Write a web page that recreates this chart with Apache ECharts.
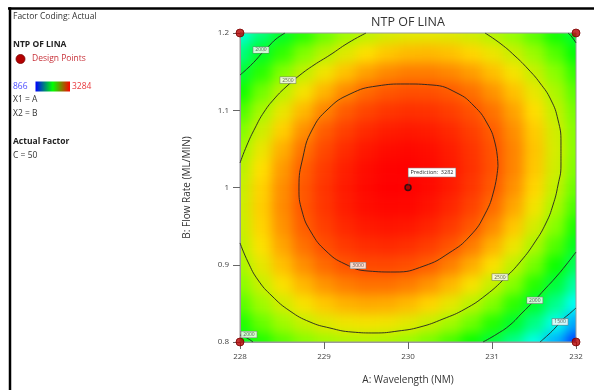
<!DOCTYPE html>
<html><head><meta charset="utf-8">
<script src="https://cdn.jsdelivr.net/npm/echarts@6/dist/echarts.min.js"></script>
<style>
html,body{margin:0;padding:0;background:#fff;width:594px;height:390px;overflow:hidden;}
#heatClip{position:absolute;left:240px;top:33px;width:336px;height:309px;overflow:hidden;z-index:1;}
#heat{position:absolute;left:-10.5px;top:-9.5px;width:357px;height:328px;filter:blur(6px);}
#main{position:absolute;left:0;top:0;width:594px;height:390px;z-index:2;}
</style></head><body>
<div id="heatClip"><div id="heat"></div></div>
<div id="main"></div>
<script>
// ---- data ----
const wavelengths = [228,228.25,228.5,228.75,229,229.25,229.5,229.75,230,230.25,230.5,230.75,231,231.25,231.5,231.75,232];
const flowRates = [0.8,0.825,0.85,0.875,0.9,0.925,0.95,0.975,1.0,1.025,1.05,1.075,1.1,1.125,1.15,1.175,1.2];
// NTP OF LINA surface, one row per flow rate (bottom to top), one value per wavelength
const ntpGrid = [
 [1984,2135,2258,2352,2418,2456,2466,2447,2400,2325,2221,2089,1929,1741,1524,1279,1006],
 [2133,2289,2418,2518,2590,2634,2649,2637,2596,2527,2430,2305,2152,1970,1760,1523,1257],
 [2258,2420,2554,2660,2737,2787,2809,2802,2768,2705,2614,2496,2349,2174,1971,1741,1482],
 [2361,2528,2667,2778,2861,2916,2944,2943,2915,2858,2774,2661,2521,2353,2157,1933,1681],
 [2440,2612,2756,2872,2961,3022,3055,3060,3037,2987,2908,2802,2668,2507,2317,2100,1855],
 [2495,2672,2821,2943,3037,3103,3141,3152,3135,3090,3018,2918,2790,2635,2452,2241,2002],
 [2527,2709,2863,2990,3089,3160,3204,3220,3209,3170,3103,3009,2887,2738,2561,2357,2125],
 [2536,2723,2881,3013,3117,3193,3242,3263,3258,3224,3163,3075,2959,2816,2645,2447,2221],
 [2522,2713,2876,3012,3121,3202,3256,3283,3282,3254,3199,3116,3006,2868,2704,2511,2292],
 [2484,2679,2847,2988,3101,3187,3246,3278,3282,3259,3209,3132,3027,2896,2737,2551,2337],
 [2423,2623,2795,2939,3057,3148,3212,3248,3258,3240,3195,3123,3024,2898,2745,2564,2357],
 [2339,2542,2718,2868,2990,3085,3153,3194,3209,3196,3156,3089,2995,2875,2727,2552,2350],
 [2232,2439,2619,2772,2898,2998,3070,3116,3135,3127,3092,3030,2942,2826,2684,2515,2319],
 [2101,2311,2495,2652,2783,2887,2963,3014,3037,3034,3004,2947,2863,2753,2615,2452,2261],
 [1946,2161,2348,2509,2644,2751,2832,2887,2915,2916,2890,2838,2759,2654,2522,2363,2178],
 [1769,1987,2178,2342,2480,2592,2677,2736,2768,2773,2752,2704,2630,2530,2403,2249,2069],
 [1568,1789,1983,2152,2293,2409,2497,2560,2596,2606,2589,2546,2476,2380,2258,2109,1934]
];
// contour lines [wavelength, flow]
const contour3000 = [[231.071,1.0278],[231.036,1.0576],[230.940,1.0835],[230.786,1.1055],[230.583,1.1223],[230.286,1.1327],[229.964,1.1340],[229.631,1.1314],[229.310,1.1210],[229.048,1.1016],[228.857,1.0744],[228.750,1.0395],[228.702,0.9994],[228.738,0.9696],[228.845,0.9424],[229.024,0.9178],[229.250,0.9010],[229.524,0.8919],[229.845,0.8906],[230.190,0.8984],[230.488,0.9152],[230.738,0.9372],[230.917,0.9657],[231.024,0.9968],[231.071,1.0278]];
const contour2500a = [[229.5,1.2],[229.286,1.1871],[229.071,1.1715],[228.881,1.1586],[228.714,1.1456],[228.560,1.1314],[228.417,1.1159],[228.286,1.0977],[228.179,1.0770],[228.083,1.0550],[228,1.0317]];
const contour2500b = [[228,0.9282],[228.095,0.9036],[228.214,0.8803],[228.381,0.8595],[228.595,0.8401],[228.833,0.8259],[229.071,0.8181],[229.333,0.8129],[229.607,0.8117],[229.881,0.8142],[230.143,0.8194],[230.417,0.8298],[230.679,0.8427],[230.929,0.8608],[231.155,0.8828],[231.345,0.9049],[231.512,0.9295],[231.643,0.9540],[231.726,0.9773],[231.786,1.0032],[231.821,1.0291],[231.821,1.0589],[231.786,1.0874],[231.702,1.1133],[231.571,1.1353],[231.429,1.1534],[231.274,1.1702],[231.107,1.1858],[230.917,1.2]];
const contour2000a = [[228.536,1.2],[228.429,1.1922],[228.345,1.1832],[228.262,1.1741],[228.190,1.1651],[228.095,1.1547],[228,1.1456]];
const contour2000b = [[231.905,1.2],[231.952,1.1948],[232,1.1871]];
const contour2000c = [[228,0.8091],[228.083,0.8052],[228.155,0.8]];
const contour2000d = [[230.893,0.8],[231.060,0.8104],[231.214,0.8220],[231.357,0.8375],[231.5,0.8531],[231.631,0.8686],[231.762,0.8841],[231.881,0.8997],[232,0.9165]];
const contour1500 = [[231.571,0.8],[231.667,0.8091],[231.762,0.8194],[231.833,0.8285],[231.905,0.8350],[232,0.8440]];
const contourLabels = [[228.25,1.178,2000],[228.571,1.139,2500],[229.405,0.899,3000],[231.095,0.884,2500],[231.51,0.854,2000],[231.81,0.826,1500],[228.107,0.8097,2000]];
const designPoints = [[228,0.8],[228,1.2],[232,0.8],[232,1.2]];
const centerPoint = [230,1.0];
const predictionValue = 3282;
const colorMin = 866, colorMax = 3284;
const xTicks = [228,229,230,231,232];
const yTicks = [0.8,0.9,1,1.1,1.2];

const FONT = 'Open Sans';
const rampColors = ['#0000ff','#0080ff','#00ffff','#00ff80','#00ff00','#91ff00','#ffe000','#ff6100','#ff0000'];

// ---- colour field ----
const heatData = [];
ntpGrid.forEach((row, j) => row.forEach((v, i) => heatData.push([i, j, v])));
const heat = echarts.init(document.getElementById('heat'));
heat.setOption({
  animation: false,
  grid: {left: 0, right: 0, top: 0, bottom: 0},
  xAxis: {type: 'category', data: wavelengths.map(String), show: false},
  yAxis: {type: 'category', data: flowRates.map(String), show: false},
  visualMap: {show: false, min: colorMin, max: colorMax, inRange: {color: rampColors}},
  series: [{type: 'heatmap', data: heatData, itemStyle: {borderWidth: 0}}]
});

// ---- main chart ----
const main = echarts.init(document.getElementById('main'));
const lineColor = 'rgba(35,35,35,0.9)';
function contourSeries(data) {
  return {type: 'line', data: data, smooth: 0.5, showSymbol: false, symbol: 'none', clip: true,
    lineStyle: {color: lineColor, width: 1}, z: 3, silent: true};
}
const fmtY = v => String(parseFloat(v.toFixed(2)));
const txt = (x, y, s, opt) => Object.assign({type: 'text', x: x, y: y, style: Object.assign({text: s, fontFamily: FONT, fontSize: 9, fill: '#333', textVerticalAlign: 'middle'}, opt || {})});

main.setOption({
  animation: false,
  backgroundColor: 'transparent',
  grid: {left: 240, top: 33, width: 336, height: 309, show: true, borderColor: '#9a9a9a', borderWidth: 1, backgroundColor: 'transparent'},
  xAxis: {type: 'value', min: xTicks[0], max: xTicks[xTicks.length-1], interval: 1,
    axisLine: {show: true, onZero: false, lineStyle: {color: '#9a9a9a'}},
    axisTick: {show: true, length: 7, lineStyle: {color: '#666'}},
    axisLabel: {color: '#444', fontSize: 8, margin: 11, fontFamily: FONT},
    splitLine: {show: false},
    name: 'A: Wavelength (NM)', nameLocation: 'middle', nameGap: 33,
    nameTextStyle: {fontSize: 10, color: '#333', fontFamily: FONT}},
  yAxis: {type: 'value', min: yTicks[0], max: yTicks[yTicks.length-1], interval: 0.1,
    axisLine: {show: true, onZero: false, lineStyle: {color: '#9a9a9a'}},
    axisTick: {show: true, length: 7, lineStyle: {color: '#666'}},
    axisLabel: {color: '#444', fontSize: 8, margin: 11, fontFamily: FONT, formatter: fmtY},
    splitLine: {show: false},
    name: 'B: Flow Rate (ML/MIN)', nameLocation: 'middle', nameGap: 48,
    nameTextStyle: {fontSize: 10, color: '#333', fontFamily: FONT}},
  series: [
    contourSeries(contour3000), contourSeries(contour2500a), contourSeries(contour2500b),
    contourSeries(contour2000a), contourSeries(contour2000b), contourSeries(contour2000c),
    contourSeries(contour2000d), contourSeries(contour1500),
    {type: 'scatter', data: contourLabels, symbolSize: 0, z: 5, silent: true,
     label: {show: true, position: 'inside', formatter: p => String(p.value[2]), fontSize: 5, fontFamily: FONT, color: '#333',
       backgroundColor: '#fff', borderColor: '#777', borderWidth: 0.6, padding: [1, 2, 0, 2]}},
    {type: 'scatter', data: designPoints, symbol: 'circle', symbolSize: 8, z: 6, silent: true,
     itemStyle: {color: '#b40000', borderColor: '#7a0000', borderWidth: 1}},
    {type: 'scatter', data: [centerPoint], symbol: 'circle', symbolSize: 6, z: 6, silent: true,
     itemStyle: {color: '#9a0000', borderColor: '#111', borderWidth: 1.5}}
  ]
});

const pc = main.convertToPixel({gridIndex: 0}, centerPoint);
main.setOption({
  graphic: [
    {type: 'line', shape: {x1: 8, y1: 8.5, x2: 594, y2: 8.5}, style: {stroke: '#000', lineWidth: 2.5}},
    {type: 'line', shape: {x1: 10, y1: 7.3, x2: 10, y2: 390}, style: {stroke: '#000', lineWidth: 2.5}},
    txt(408, 22, 'NTP OF LINA', {fontSize: 12.5, fill: '#333', textAlign: 'center'}),
    txt(13, 17, 'Factor Coding: Actual', {fontSize: 8.5}),
    txt(13, 45, 'NTP OF LINA', {fontSize: 8.5, fontWeight: 'bold', fill: '#222'}),
    {type: 'circle', shape: {cx: 20.5, cy: 59, r: 4.5}, style: {fill: '#b40000', stroke: '#7a0000', lineWidth: 0.8}},
    txt(32, 59, 'Design Points', {fontSize: 8.5, fill: '#c8323a'}),
    txt(13, 86.5, '866', {fontSize: 8.5, fill: '#4d4dff'}),
    {type: 'rect', shape: {x: 35.5, y: 81.5, width: 34.5, height: 10},
     style: {fill: new echarts.graphic.LinearGradient(0, 0, 1, 0, [
       {offset: 0, color: '#0000ff'}, {offset: 0.5, color: '#00ff00'}, {offset: 1, color: '#ff0000'}])}},
    txt(72, 86.5, '3284', {fontSize: 8.5, fill: '#e8383c'}),
    txt(13, 100, 'X1 = A', {fontSize: 8.5}),
    txt(13, 114, 'X2 = B', {fontSize: 8.5}),
    txt(13, 142, 'Actual Factor', {fontSize: 8.5, fontWeight: 'bold', fill: '#222'}),
    txt(13, 156, 'C = 50', {fontSize: 8.5}),
    {type: 'line', shape: {x1: pc[0] + 1, y1: pc[1] - 3, x2: pc[0] + 1, y2: pc[1] - 11}, style: {stroke: '#555', lineWidth: 0.8}, z: 10},
    {type: 'text', x: pc[0] + 0.5, y: pc[1] - 15, z: 10,
     style: {text: 'Prediction:  ' + predictionValue, fontFamily: FONT, fontSize: 5.5, fill: '#333', textVerticalAlign: 'middle',
       backgroundColor: '#fff', borderColor: '#888', borderWidth: 0.6, padding: [1.5, 2, 1, 2]}}
  ]
});
</script>
</body></html>
